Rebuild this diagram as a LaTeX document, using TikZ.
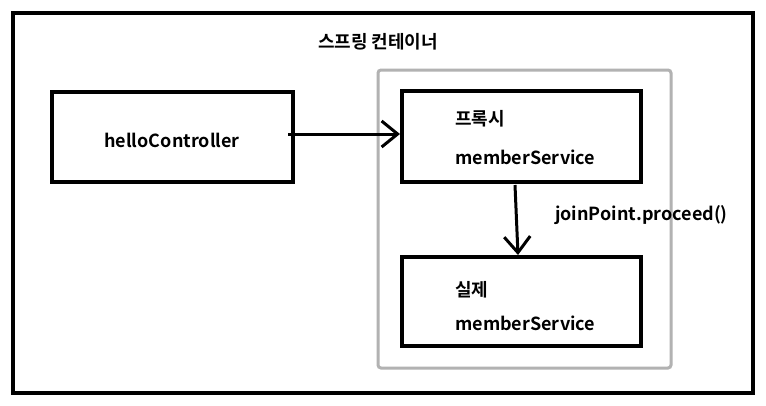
\documentclass[tikz,border=0pt]{standalone}
\usepackage{fontspec}
\setmainfont{Noto Sans CJK KR}[BoldFont={* Bold}]
\usetikzlibrary{arrows.meta}
\begin{document}
\begin{tikzpicture}[x=1pt,y=-1pt,
  box/.style={draw=black,line width=4pt},
  lbl/.style={font=\bfseries\fontsize{18}{20}\selectfont,inner sep=0pt},
  conn/.style={draw=black,line width=3pt,-{Straight Barb[length=16pt,width=26pt,line width=3pt]}}]
\useasboundingbox (0,0) rectangle (766,405);
\fill[white] (0,0) rectangle (766,405);
\draw[line width=4pt] (13,13) rectangle (753,393);
\node[lbl] (title) at (378,42) {스프링 컨테이너};
\draw[line width=3pt,draw=black!30,rounded corners=3pt] (378,70) rectangle (671,368);
\draw[box] (52,92) rectangle (293,182);
\node[lbl] (hello) at (172,140) {helloController};
\draw[box] (402,91) rectangle (641,182);
\coordinate (hc) at (288,134);
\coordinate (pl) at (400,134);
\node[lbl,anchor=west] (p1) at (455,119) {프록시};
\node[lbl,anchor=west] (p2) at (455,157) {memberService};
\draw[box] (402,257) rectangle (641,346);
\coordinate (pb) at (515,185);
\coordinate (rt) at (518,255);
\node[lbl,anchor=west] (r1) at (455,290) {실제};
\node[lbl,anchor=west] (r2) at (455,323) {memberService};
\node[lbl,anchor=west] (jp) at (555,215) {joinPoint.proceed()};
\draw[conn] (hc) -- (pl);
\draw[conn] (pb) -- (rt);
\end{tikzpicture}
\end{document}
